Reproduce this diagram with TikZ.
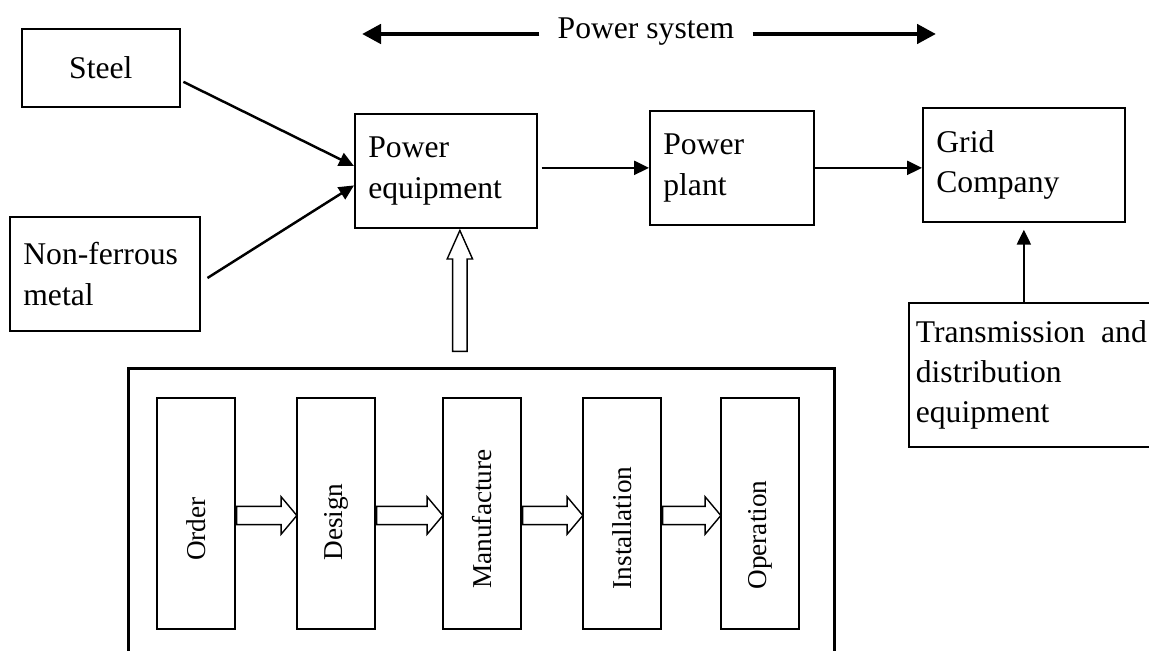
\documentclass[tikz,border=0pt]{standalone}
\usepackage{fontspec}
\setmainfont{Liberation Serif}
\usetikzlibrary{arrows.meta,shapes.arrows,calc}
\tikzset{
  kasten/.style={draw, line width=1pt, anchor=north west, inner xsep=0.27cm, inner ysep=0pt, align=left, font=\fontsize{18}{23}\selectfont},
  stufe/.style={draw, line width=1pt, minimum width=1.56cm, minimum height=4.62cm, inner sep=0pt},
  stufentext/.style={rotate=90, inner sep=0pt, font=\fontsize{15.5}{18}\selectfont},
  pfeil/.style={line width=1.4pt, -{Triangle[length=0.3cm,width=0.28cm]}},
  hohlpfeil/.style={draw, line width=0.8pt, single arrow, single arrow head indent=0pt},
  systempfeil/.style={line width=2.6pt, -{Triangle[length=0.38cm,width=0.38cm]}}
}
\begin{document}
\begin{tikzpicture}[x=0.02cm,y=-0.02cm]
\useasboundingbox (0,0) rectangle (1149,651);
% Ueberschrift mit Doppelpfeil
\node[font=\fontsize{18}{23}\selectfont, inner xsep=0.36cm] (system) at (646,32) {Power system};
\coordinate (links) at (362,34);
\coordinate (rechts) at (936,34);
\draw[systempfeil] (system.west |- links) -- (links);
\draw[systempfeil] (system.east |- rechts) -- (rechts);
% obere Reihe
\node[kasten, align=center, text width=2.62cm, minimum height=1.56cm] (steel) at (21,28) {Steel};
\node[kasten, text width=3.26cm, minimum height=2.28cm] (nonferrous) at (9,216) {Non-ferrous\\metal};
\node[kasten, text width=3.10cm, minimum height=2.28cm] (pe) at (354,113) {Power\\equipment};
\node[kasten, text width=2.74cm, minimum height=2.28cm] (plant) at (649,110) {Power\\plant};
\node[kasten, text width=3.50cm, minimum height=2.28cm] (grid) at (922,107) {Grid\\Company};
\node[kasten, inner xsep=0.14cm, text width=4.62cm, minimum height=2.88cm] (trans) at (908,302) {\hbox to \hsize{Transmission\hfil and}\\distribution\\equipment};
% Verbindungen
\draw[pfeil, shorten <=0.06cm] (steel.-9) -- (pe.177);
\draw[pfeil, shorten <=0.16cm] (nonferrous.-5) -- (pe.189);
\draw[pfeil, shorten <=0.08cm] (pe.east |- plant.west) -- (plant.west);
\draw[pfeil] (plant.east) -- (plant.east -| grid.west);
\draw[pfeil, shorten >=0.14cm] (grid.south |- trans.north) -- (grid.south);
% Lebenszyklus, unten offen
\node[draw, line width=1.9pt, anchor=north west, minimum width=14.12cm, minimum height=6cm, inner sep=0pt] (ablauf) at (127,367) {};
\foreach \name/\txt/\x/\y in {order/Order/196/529, design/Design/336/522, manufacture/Manufacture/482/519, installation/Installation/622/528, operation/Operation/760/535}{
  \node[stufe] (\name) at (\x,513.5) {};
  \node[stufentext] (\name-text) at (\x,\y) {\txt};
}
\foreach \a/\b in {order/design, design/manufacture, manufacture/installation, installation/operation}
  \path let \p1=(\a.east), \p2=(\b.west) in
    node[hohlpfeil, anchor=tail, inner sep=0.17cm, minimum height=\x2-\x1, single arrow head extend=0.19cm, single arrow tip angle=100] at ($(\p1)+(0,2)$) {};
% Hohlpfeil nach oben
\node[hohlpfeil, shape border rotate=90, anchor=tip, inner sep=0.13cm, minimum height=2.42cm, single arrow head extend=0.11cm, single arrow tip angle=48] (zufuhr) at ($(pe.south)+(14,0)$) {};
\end{tikzpicture}
\end{document}
